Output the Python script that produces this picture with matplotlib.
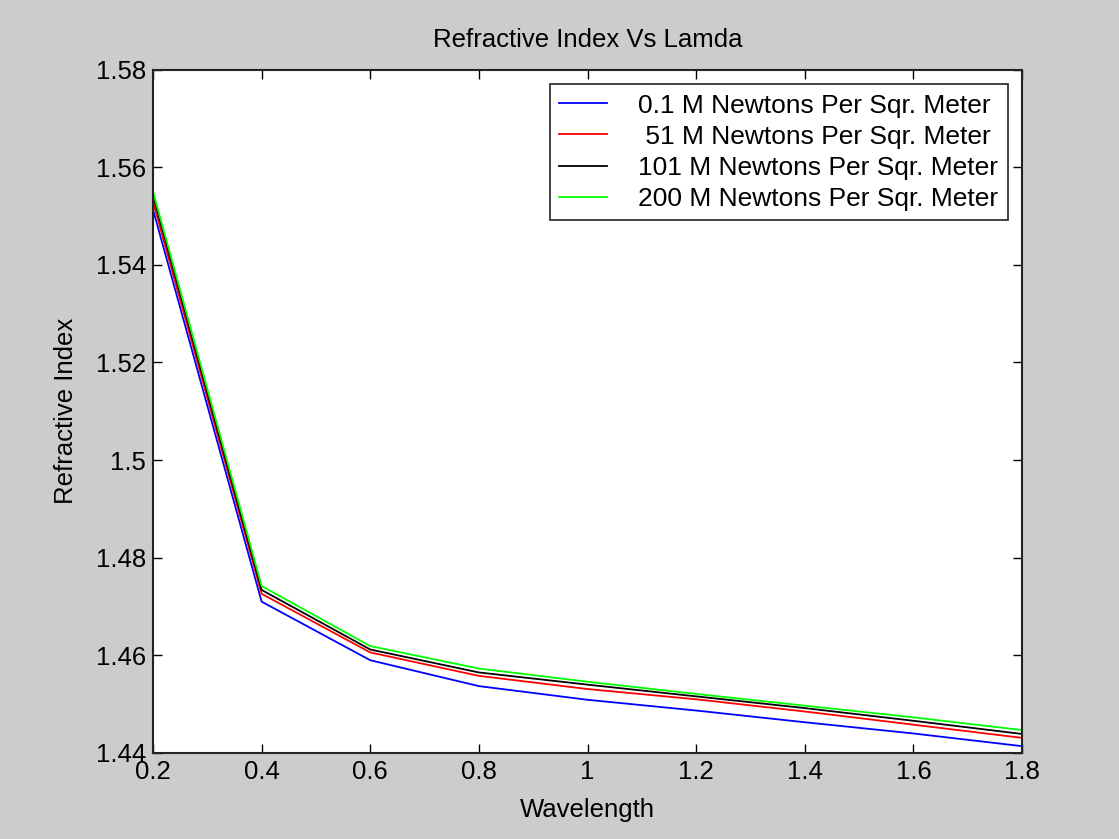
import matplotlib
matplotlib.use("Agg")
import matplotlib.pyplot as plt

# Wavelength samples and refractive index for each applied stress level
wavelength = [0.2, 0.4, 0.6, 0.8, 1.0, 1.2, 1.4, 1.6, 1.8]
n_0p1 = [1.5513, 1.4710, 1.4590, 1.4537, 1.4509, 1.4487, 1.4463, 1.4440, 1.4414]
n_51 = [1.5529, 1.4726, 1.4606, 1.4558, 1.4531, 1.4510, 1.4485, 1.4458, 1.4431]
n_101 = [1.5542, 1.4734, 1.4612, 1.4565, 1.4540, 1.4516, 1.4492, 1.4466, 1.4439]
n_200 = [1.5550, 1.4742, 1.4619, 1.4573, 1.4546, 1.4521, 1.4497, 1.4473, 1.4447]

series_labels = ["0.1 M Newtons Per Sqr. Meter",
                 " 51 M Newtons Per Sqr. Meter",
                 "101 M Newtons Per Sqr. Meter",
                 "200 M Newtons Per Sqr. Meter"]
series_colors = ["#0000ff", "#ff0000", "#000000", "#00ff00"]

x_ticks = [0.2, 0.4, 0.6, 0.8, 1.0, 1.2, 1.4, 1.6, 1.8]
x_tick_labels = ["0.2", "0.4", "0.6", "0.8", "1", "1.2", "1.4", "1.6", "1.8"]
y_ticks = [1.44, 1.46, 1.48, 1.50, 1.52, 1.54, 1.56, 1.58]
y_tick_labels = ["1.44", "1.46", "1.48", "1.5", "1.52", "1.54", "1.56", "1.58"]

plt.rcParams["font.family"] = ["Liberation Sans", "DejaVu Sans"]
FS = 18.5
LEG_FS = 19

fig = plt.figure(figsize=(11.19, 8.39), dpi=100, facecolor="#cccccc")
ax = fig.add_axes([153 / 1119, 1 - 753 / 839, 869 / 1119, 683.5 / 839])
ax.set_facecolor("white")

for ys, lab, col in zip([n_0p1, n_51, n_101, n_200], series_labels, series_colors):
    ax.plot(wavelength, ys, color=col, linewidth=1.3, label=lab)

ax.set_xlim(0.2, 1.8)
ax.set_ylim(1.44, 1.58)
ax.set_xticks(x_ticks)
ax.set_xticklabels(x_tick_labels)
ax.set_yticks(y_ticks)
ax.set_yticklabels(y_tick_labels)
ax.tick_params(direction="in", length=6.5, width=1.0, labelsize=FS,
               top=True, right=True, colors="black", pad=5)
for sp in ax.spines.values():
    sp.set_linewidth(1.5)
    sp.set_color("#222222")

ax.set_title("Refractive Index Vs Lamda", fontsize=FS, pad=16)
ax.set_xlabel("Wavelength", fontsize=FS, labelpad=10)
ax.set_ylabel("Refractive Index", fontsize=FS, labelpad=13)

leg = ax.legend(loc="upper right", bbox_to_anchor=(1 - 14 / 869, 1 - 14.5 / 683.5),
                borderaxespad=0, fontsize=LEG_FS, frameon=True, fancybox=False,
                edgecolor="black", handlelength=1.8, handletextpad=1.2,
                labelspacing=0.27, borderpad=0.36)
leg.get_frame().set_linewidth(1.3)

fig.savefig("out.png", dpi=100, facecolor=fig.get_facecolor())
